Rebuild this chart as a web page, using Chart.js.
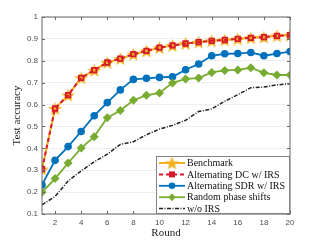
<!DOCTYPE html>
<html>
<head>
<meta charset="utf-8">
<script src="https://cdn.jsdelivr.net/npm/chart.js@4.4.1/dist/chart.umd.min.js"></script>
<style>
  html, body { margin: 0; padding: 0; background: #fff; }
</style>
</head>
<body>
<canvas id="chart" width="321" height="241"></canvas>
<script>
// data
const rounds = [1, 2, 3, 4, 5, 6, 7, 8, 9, 10, 11, 12, 13, 14, 15, 16, 17, 18, 19, 20];
const benchmark = [0.305, 0.582, 0.643, 0.722, 0.757, 0.792, 0.810, 0.830, 0.845, 0.860, 0.870, 0.879, 0.885, 0.891, 0.895, 0.900, 0.905, 0.908, 0.914, 0.917];
const altDC = [0.305, 0.582, 0.643, 0.722, 0.757, 0.792, 0.810, 0.830, 0.845, 0.860, 0.870, 0.879, 0.885, 0.891, 0.895, 0.900, 0.905, 0.908, 0.914, 0.917];
const altSDR = [0.233, 0.345, 0.408, 0.477, 0.549, 0.609, 0.667, 0.715, 0.720, 0.724, 0.727, 0.759, 0.785, 0.823, 0.832, 0.833, 0.838, 0.823, 0.833, 0.842];
const randomPhase = [0.199, 0.262, 0.333, 0.401, 0.453, 0.540, 0.573, 0.620, 0.642, 0.653, 0.699, 0.717, 0.721, 0.747, 0.756, 0.758, 0.768, 0.745, 0.735, 0.735];
const noIRS = [0.142, 0.180, 0.251, 0.297, 0.338, 0.373, 0.418, 0.430, 0.462, 0.488, 0.505, 0.528, 0.568, 0.580, 0.615, 0.645, 0.677, 0.680, 0.690, 0.695];
const xTicks = [2, 4, 6, 8, 10, 12, 14, 16, 18, 20];
const legendLabels = ['Benchmark', 'Alternating DC w/ IRS', 'Alternating SDR w/ IRS', 'Random phase shifts', 'w/o IRS'];

const ORANGE = '#F0B020';
const RED = '#D7192B';
const BLUE = '#0072BD';
const GREEN = '#77AC30';
const BLACK = '#222222';
const AXIS = '#666666';

// five-pointed star used as the benchmark marker
function makeStar(r, color) {
  const c = document.createElement('canvas');
  const s = Math.ceil(r * 2 + 2);
  c.width = s; c.height = s;
  const g = c.getContext('2d');
  g.beginPath();
  for (let i = 0; i < 10; i++) {
    const rad = i % 2 ? r * 0.42 : r;
    const a = -Math.PI / 2 + i * Math.PI / 5;
    const px = s / 2 + rad * Math.cos(a), py = s / 2 + 0.8 + rad * Math.sin(a);
    if (i === 0) g.moveTo(px, py); else g.lineTo(px, py);
  }
  g.closePath();
  g.fillStyle = color;
  g.fill();
  return c;
}
const star = makeStar(7.2, ORANGE);

function pts(arr) {
  return rounds.map((r, i) => ({ x: r, y: arr[i] }));
}

const datasets = [
  {
    label: legendLabels[0], data: pts(benchmark), order: 5,
    borderColor: ORANGE, borderWidth: 2, pointStyle: star, pointRadius: 7
  },
  {
    label: legendLabels[1], data: pts(altDC), order: 4,
    borderColor: RED, borderWidth: 2, borderDash: [4, 3],
    pointStyle: 'rect', pointRadius: 3.2, pointBorderWidth: 1.8,
    pointBorderColor: RED, pointBackgroundColor: 'rgba(0,0,0,0)'
  },
  {
    label: legendLabels[2], data: pts(altSDR), order: 3,
    borderColor: BLUE, borderWidth: 1.8, pointStyle: 'circle', pointRadius: 3.8,
    pointBackgroundColor: BLUE, pointBorderColor: BLUE, pointBorderWidth: 0
  },
  {
    label: legendLabels[3], data: pts(randomPhase), order: 2,
    borderColor: GREEN, borderWidth: 1.8, pointStyle: 'rectRot', pointRadius: 4.5,
    pointBackgroundColor: GREEN, pointBorderColor: GREEN, pointBorderWidth: 0
  },
  {
    label: legendLabels[4], data: pts(noIRS), order: 1,
    borderColor: BLACK, borderWidth: 1.5, borderDash: [4, 1.5, 1, 1.5], pointRadius: 0
  }
];

// box, inward ticks and legend inside the plot
const matlabBox = {
  id: 'matlabBox',
  afterDatasetsDraw(chart) {
    const { ctx, chartArea: a, scales } = chart;
    ctx.save();
    ctx.strokeStyle = AXIS;
    ctx.lineWidth = 1;
    ctx.strokeRect(a.left, a.top, a.right - a.left, a.bottom - a.top);
    ctx.beginPath();
    xTicks.forEach(v => {
      const x = Math.round(scales.x.getPixelForValue(v)) + 0.5;
      ctx.moveTo(x, a.bottom); ctx.lineTo(x, a.bottom - 3);
      ctx.moveTo(x, a.top); ctx.lineTo(x, a.top + 3);
    });
    for (let v = 1; v <= 10; v++) {
      const y = Math.round(scales.y.getPixelForValue(v / 10)) + 0.5;
      ctx.moveTo(a.left, y); ctx.lineTo(a.left + 3, y);
      ctx.moveTo(a.right, y); ctx.lineTo(a.right - 3, y);
    }
    ctx.stroke();

    // legend
    const lx = 156, ly = 156, lw = a.right - 156, lh = a.bottom - 156;
    ctx.fillStyle = '#fff';
    ctx.fillRect(lx, ly, lw, lh);
    ctx.strokeStyle = AXIS;
    ctx.lineWidth = 0.8;
    ctx.strokeRect(lx + 0.5, ly + 0.5, lw - 1, lh - 1);
    ctx.font = '10px "Liberation Serif", serif';
    ctx.textBaseline = 'middle';
    chart.data.datasets.forEach((ds, i) => {
      const y = ly + 7 + i * 11.4;
      const x0 = lx + 3, x1 = lx + 29, xm = (x0 + x1) / 2;
      ctx.save();
      ctx.strokeStyle = ds.borderColor;
      ctx.lineWidth = ds.borderWidth;
      ctx.setLineDash(ds.borderDash || []);
      ctx.beginPath();
      ctx.moveTo(x0, y); ctx.lineTo(x1, y);
      ctx.stroke();
      ctx.restore();
      ctx.fillStyle = ds.borderColor;
      if (i === 0) {
        ctx.drawImage(star, xm - star.width / 2, y - star.height / 2);
      } else if (i === 1) {
        ctx.fillRect(xm - 3, y - 3, 6, 6);
      } else if (i === 2) {
        ctx.beginPath(); ctx.arc(xm, y, 3.3, 0, Math.PI * 2); ctx.fill();
      } else if (i === 3) {
        ctx.beginPath();
        ctx.moveTo(xm, y - 4); ctx.lineTo(xm + 3.5, y); ctx.lineTo(xm, y + 4); ctx.lineTo(xm - 3.5, y);
        ctx.closePath(); ctx.fill();
      }
      ctx.fillStyle = '#111';
      ctx.fillText(ds.label, lx + 31, y + 0.5);
    });
    ctx.restore();
  }
};

new Chart(document.getElementById('chart').getContext('2d'), {
  type: 'line',
  data: { datasets: datasets },
  options: {
    responsive: false,
    animation: false,
    layout: { padding: { top: 17, right: 31, left: 0, bottom: 0 } },
    plugins: { legend: { display: false }, tooltip: { enabled: false } },
    elements: { line: { tension: 0 } },
    scales: {
      x: {
        type: 'linear', min: 1, max: 20,
        afterBuildTicks: s => { s.ticks = xTicks.map(v => ({ value: v })); },
        afterFit: s => { s.height = 27; },
        grid: { display: false, drawTicks: false },
        border: { display: false },
        ticks: { color: '#4d4d4d', font: { family: '"Liberation Sans", Arial, sans-serif', size: 8 }, padding: 4, maxRotation: 0 },
        title: { display: true, text: 'Round', color: '#222', font: { family: '"Liberation Serif", serif', size: 11 }, padding: { top: 0, bottom: 1 } }
      },
      y: {
        min: 0.1, max: 1,
        ticks: {
          stepSize: 0.1, color: '#4d4d4d', padding: 4,
          font: { family: '"Liberation Sans", Arial, sans-serif', size: 8 },
          callback: v => (Math.abs(v - 1) < 1e-6 ? '1' : v.toFixed(1))
        },
        afterFit: s => { s.width = 42; },
        grid: { color: '#ebebeb', lineWidth: 0.8, drawTicks: false },
        border: { display: false },
        title: { display: true, text: 'Test accuracy', color: '#222', font: { family: '"Liberation Serif", serif', size: 11 }, padding: { top: 11, bottom: 0 } }
      }
    }
  },
  plugins: [matlabBox]
});
</script>
</body>
</html>
